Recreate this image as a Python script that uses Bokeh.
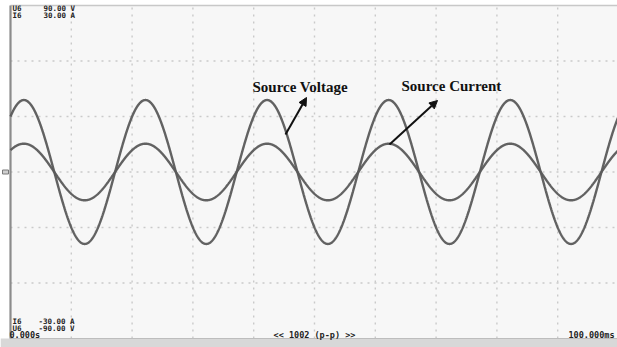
import numpy as np
from bokeh.plotting import figure
from bokeh.models import Range1d, Arrow, NormalHead
from bokeh.core.properties import value
from bokeh.embed import file_html
from bokeh.resources import INLINE

# Scope settings (per-division scales shown on the screen)
TIME_SPAN_MS = 100.0          # 0.000s ... 100.000ms, 10 divisions
V_FULL = 90.0                 # U6 +/- 90.00 V
I_FULL = 30.0                 # I6 +/- 30.00 A
TIME_DIVS = [10, 20, 30, 40, 50, 60, 70, 80, 90]
LEVEL_DIVS = [-60, -30, 0, 30, 60]

# Measured waveform parameters
SUPPLY_FREQ_HZ = 50.0
V_PEAK = 38.9                 # source voltage amplitude, V
I_PEAK = 5.1                  # source current amplitude, A
PEAK_TIME_MS = 2.2            # time of first positive peak (voltage and current in phase)

# Screen geometry in canvas pixels
W, H = 617, 347
LEFT_PX, TOP_PX, BOTTOM_PX = 10, 5, 338
PX_PER_MS = 6.08
MID_PX = (TOP_PX + BOTTOM_PX) / 2
PX_PER_V = (BOTTOM_PX - TOP_PX) / (2 * V_FULL)


def tx(px):
    return (px - LEFT_PX) / PX_PER_MS


def vy(py):
    return (MID_PX - py) / PX_PER_V


x0, x1 = tx(0), tx(W)
y0, y1 = vy(H), vy(0)

p = figure(width=W, height=H, output_backend="svg", toolbar_location=None,
           x_range=Range1d(x0, x1), y_range=Range1d(y0, y1),
           x_axis_location=None, y_axis_location=None, min_border=0)
p.grid.visible = False
p.outline_line_color = None
p.background_fill_color = "#ffffff"
p.border_fill_color = "#ffffff"
amp_scale = I_FULL / V_FULL
p.extra_y_ranges = {"amps": Range1d(y0 * amp_scale, y1 * amp_scale)}

# screen area
p.quad(left=0, right=x1, bottom=-V_FULL, top=V_FULL, fill_color="#f7f7f7", line_color=None)
# status strip under the screen
p.quad(left=x0, right=x1, bottom=y0, top=-V_FULL, fill_color="#d8d8d8", line_color=None)

# dotted graticule
p.segment(x0=TIME_DIVS, y0=[-V_FULL] * len(TIME_DIVS), x1=TIME_DIVS, y1=[V_FULL] * len(TIME_DIVS),
          line_color="#cacaca", line_width=1.4, line_dash="2 5")
p.segment(x0=[0] * len(LEVEL_DIVS), y0=LEVEL_DIVS, x1=[x1] * len(LEVEL_DIVS), y1=LEVEL_DIVS,
          line_color="#cacaca", line_width=1.4, line_dash="2 5")

# screen borders
p.segment(x0=[0], y0=[V_FULL], x1=[x1], y1=[V_FULL], line_color="#c8c8c8", line_width=1.5)
p.segment(x0=[0], y0=[-V_FULL], x1=[x1], y1=[-V_FULL], line_color="#bdbdbd", line_width=1.2)
p.segment(x0=[0], y0=[-V_FULL], x1=[0], y1=[V_FULL], line_color="#8c8c8c", line_width=2.2)

# ground reference marker
p.rect(x=[tx(5)], y=[0], width=6, height=4, width_units="screen", height_units="screen",
       fill_color="#cfcfcf", line_color="#7a7a7a", line_width=1)

# waveforms
t = np.linspace(0, TIME_SPAN_MS, 2001)
phase = 2 * np.pi * SUPPLY_FREQ_HZ * (t - PEAK_TIME_MS) / 1000.0
voltage = V_PEAK * np.cos(phase)
current = I_PEAK * np.cos(phase)
p.line(t, voltage, line_color="#5a5a5a", line_width=2.4, line_alpha=0.95)
p.line(t, current, line_color="#5a5a5a", line_width=2.4, line_alpha=0.95, y_range_name="amps")

# scope readouts
mono = value("DejaVu Sans Mono")
small = dict(text_font=mono, text_font_size="8.5px", text_font_style="bold",
             text_color="#222222", text_baseline="middle")
tight = dict(small, text_font_size="7.5px")
p.text(x=[tx(12), tx(12)], y=[vy(8), vy(15)], text=["U6", "I6"], **tight)
p.text(x=[tx(43), tx(43)], y=[vy(8), vy(15)], text=[f"{V_FULL:.2f} V", f"{I_FULL:.2f} A"], **tight)
p.text(x=[tx(12), tx(12)], y=[vy(321), vy(328)], text=["I6", "U6"], **tight)
p.text(x=[tx(38), tx(38)], y=[vy(321), vy(328)], text=[f"{-I_FULL:.2f} A", f"{-V_FULL:.2f} V"], **tight)
p.text(x=[tx(9)], y=[vy(334)], text=["0.000s"], **small)
p.text(x=[tx(314)], y=[vy(334)], text=["<< 1002 (p-p) >>"], text_align="center", **small)
p.text(x=[tx(614)], y=[vy(334)], text=[f"{TIME_SPAN_MS:.3f}ms"], text_align="right", **small)

# annotations
serif = dict(text_font=value("Liberation Serif"), text_font_size="15px", text_font_style="bold",
             text_color="#111111", text_baseline="middle")
p.text(x=[tx(252)], y=[vy(86)], text=["Source Voltage"], **serif)
p.text(x=[tx(401)], y=[vy(85)], text=["Source Current"], **serif)

for (sx, sy), (ex, ey) in [((285, 134), (306, 97)), ((389, 144), (437, 100))]:
    p.add_layout(Arrow(end=NormalHead(size=8, fill_color="#111111", line_color="#111111"),
                       x_start=tx(sx), y_start=vy(sy), x_end=tx(ex), y_end=vy(ey),
                       line_color="#111111", line_width=2))

open("out.html", "w").write(file_html(p, INLINE))
